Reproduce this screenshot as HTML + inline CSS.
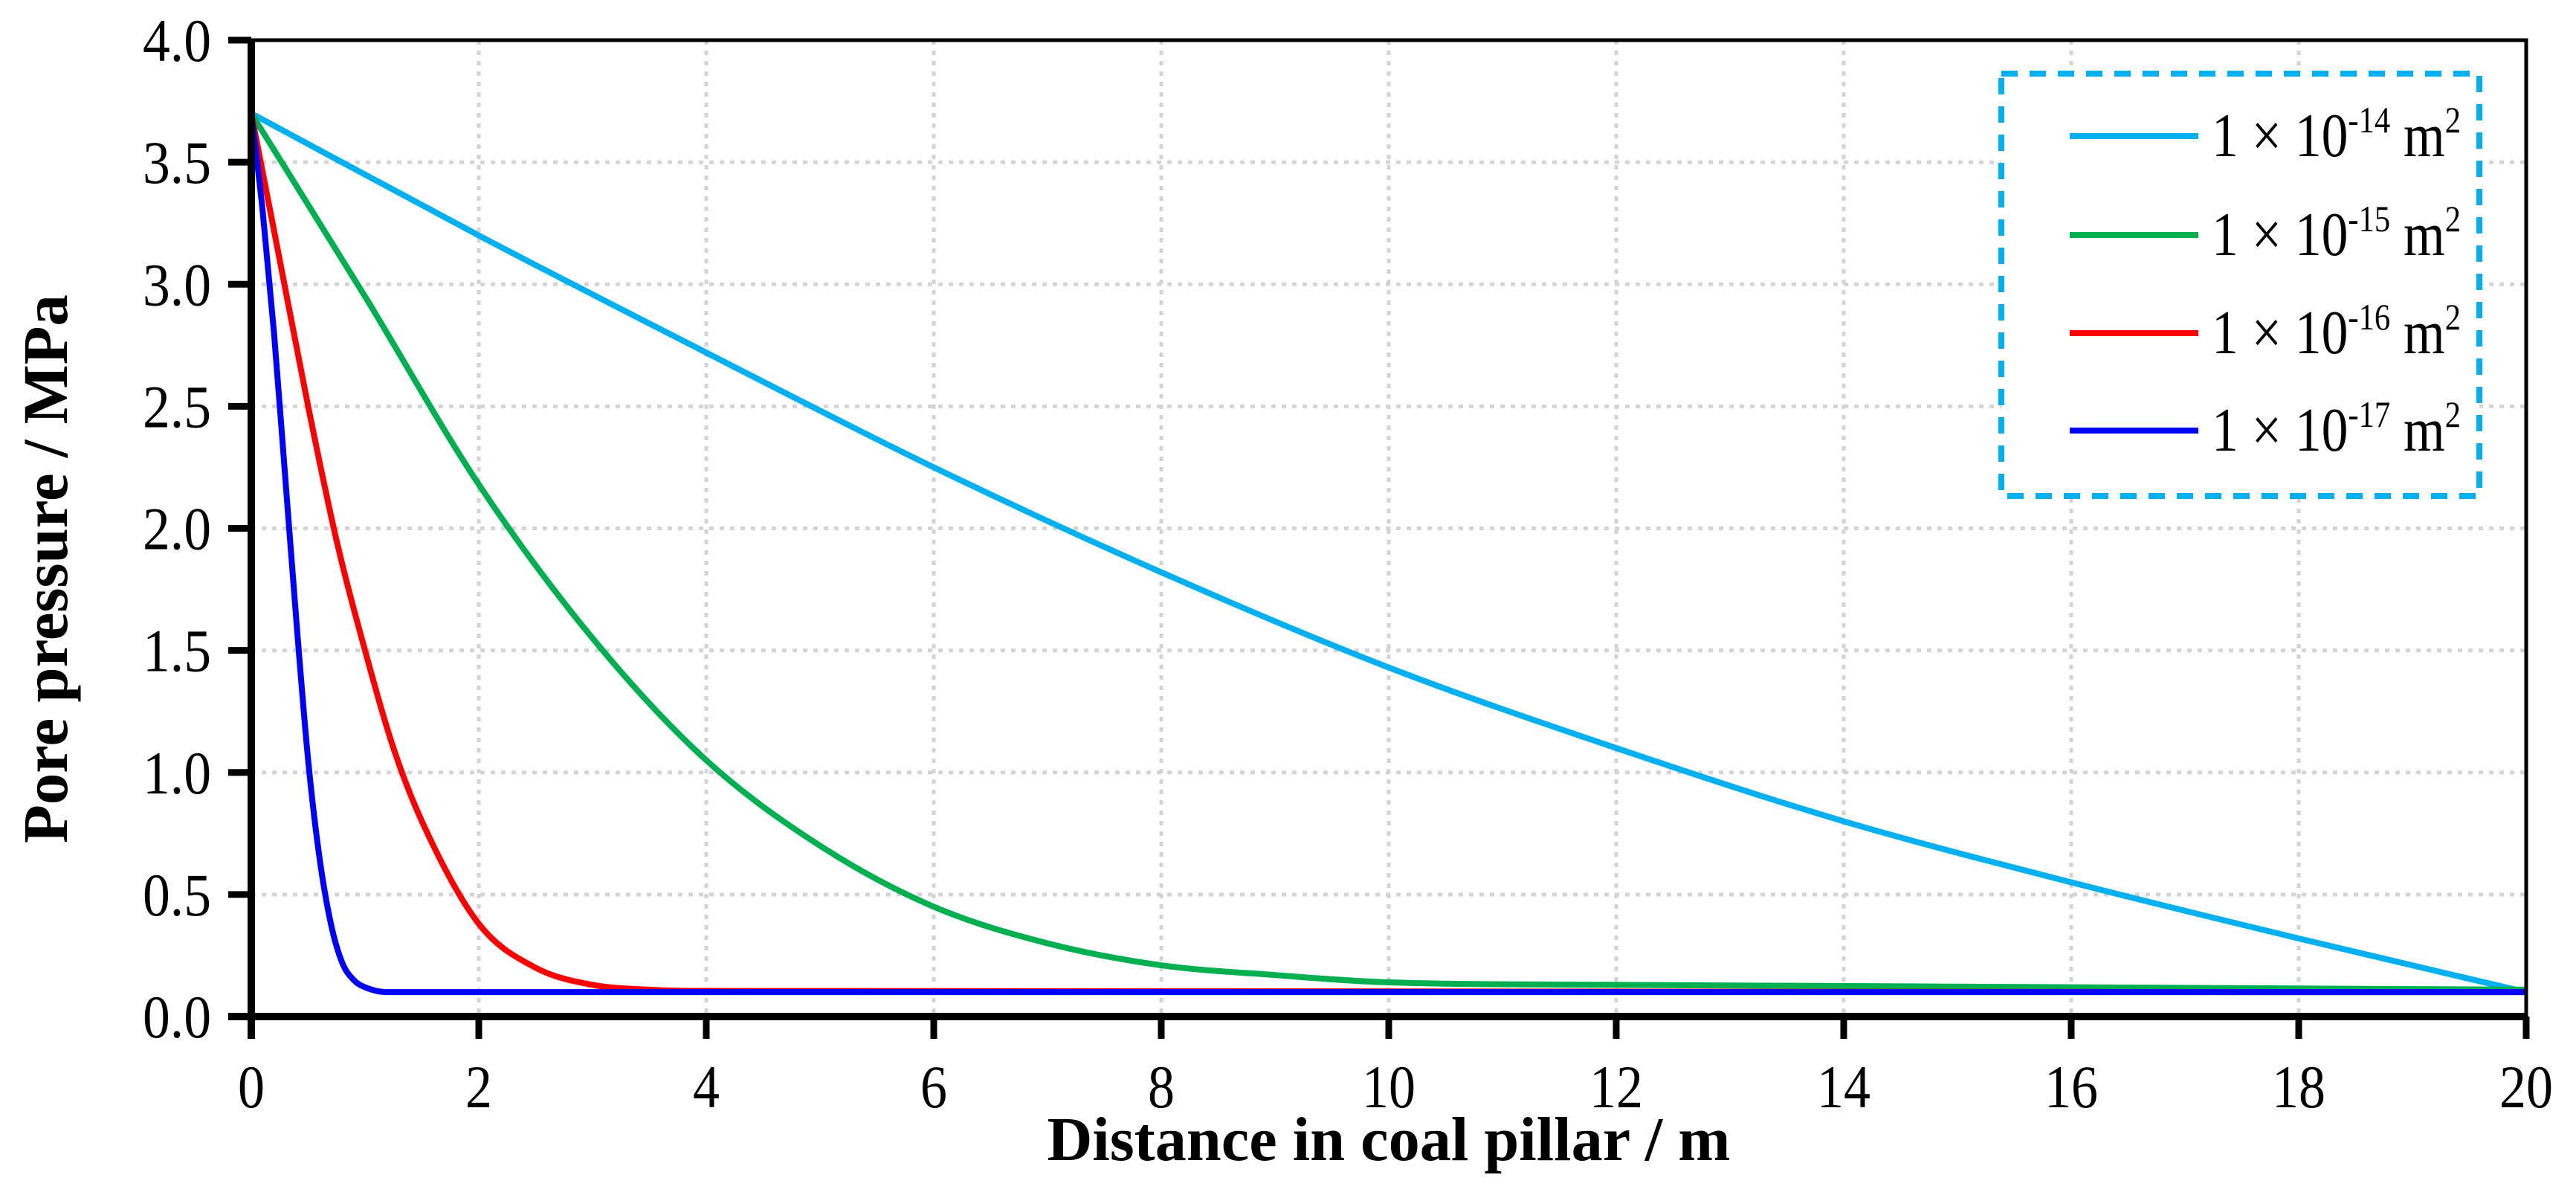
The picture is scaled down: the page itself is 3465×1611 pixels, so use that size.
<!DOCTYPE html>
<html><head><meta charset="utf-8"><style>
html,body{margin:0;padding:0;background:#fff;}
svg{display:block;font-family:"Liberation Serif",serif;}
</style></head><body>
<svg id="chart" width="3465" height="1611" viewBox="0 0 3465 1611" xmlns="http://www.w3.org/2000/svg">
<g id="grid"></g>
<g id="series"></g>
<g id="axes"></g>
<text x="1868" y="1560" text-anchor="middle" font-size="84" font-weight="bold" textLength="919" lengthAdjust="spacingAndGlyphs">Distance in coal pillar / m</text>
<text transform="translate(90,765) rotate(-90)" text-anchor="middle" font-size="86" font-weight="bold" textLength="738" lengthAdjust="spacingAndGlyphs">Pore pressure / MPa</text>
<g id="legend">
<rect x="2692" y="99" width="643" height="568" fill="#fff" stroke="#00B0F0" stroke-width="8" stroke-dasharray="22,16"/>
</g>
</svg>
<script>
const xTicks=[0,2,4,6,8,10,12,14,16,18,20];
const yTicks=[0.0,0.5,1.0,1.5,2.0,2.5,3.0,3.5,4.0];
const seriesExp=["-14","-15","-16","-17"];
const seriesColors=["#00B0F0","#00B050","#FF0000","#0000FF"];
const xCyan=[0,2,4,6,8,10,12,14,16,18,20];
const yCyan=[3.7,3.2,2.72,2.25,1.82,1.43,1.1,0.8,0.55,0.32,0.1];
const xGreen=[0,1,2,3,4,5,6,7,8,9,10,12,14,20];
const yGreen=[3.7,2.95,2.18,1.55,1.05,0.7,0.45,0.3,0.21,0.17,0.14,0.13,0.125,0.11];
const xRed=[0,0.25,0.5,0.75,1,1.25,1.5,2,2.5,3,3.5,4,20];
const yRed=[3.7,3.1,2.5,1.95,1.5,1.1,0.8,0.38,0.2,0.13,0.11,0.105,0.1];
const xBlue=[0,0.1,0.2,0.3,0.4,0.5,0.6,0.7,0.8,0.9,1.0,1.2,20];
const yBlue=[3.7,3.3,2.8,2.2,1.6,1.05,0.65,0.38,0.22,0.15,0.12,0.1,0.1];

const L=338,R=3398,T=54,B=1367;
const sx=v=>L+(v-0)/(20-0)*(R-L);
const sy=v=>B-(v-0)/(4-0)*(B-T);
const NS="http://www.w3.org/2000/svg";
function mk(tag,attrs,parent){const e=document.createElementNS(NS,tag);for(const k in attrs)e.setAttribute(k,attrs[k]);parent.appendChild(e);return e;}
const grid=document.getElementById('grid'),axes=document.getElementById('axes'),ser=document.getElementById('series'),leg=document.getElementById('legend');

xTicks.forEach(t=>{
  if(t>0&&t<20){const g=mk('line',{x1:sx(t),x2:sx(t),y1:T,y2:B,stroke:'#d4d4d4','stroke-width':5,'stroke-dasharray':'6,8'},grid);
  
  }
  const tk=mk('line',{x1:sx(t),x2:sx(t),y1:B,y2:B+30,stroke:'#000','stroke-width':9},axes);
  
  
  const s=String(t);
  const lb=mk('text',{x:sx(t),y:1489,'text-anchor':'middle','font-size':82,textLength:s.length*36,lengthAdjust:'spacingAndGlyphs'},axes);
  
  
  lb.textContent=s;
});
yTicks.forEach(t=>{
  if(t>0&&t<4){const g=mk('line',{x1:L,x2:R,y1:sy(t),y2:sy(t),stroke:'#d4d4d4','stroke-width':5,'stroke-dasharray':'6,8'},grid);
  
  }
  const tk=mk('line',{x1:L-31,x2:L,y1:sy(t),y2:sy(t),stroke:'#000','stroke-width':9},axes);
  
  
  const lb=mk('text',{x:284,y:sy(t)+28,'text-anchor':'end','font-size':82,textLength:92,lengthAdjust:'spacingAndGlyphs'},axes);
  
  
  lb.textContent=t.toFixed(1);
});
const frame=mk('rect',{x:L,y:T,width:R-L,height:B-T,fill:'none',stroke:'#000','stroke-width':5},axes);


const xa=mk('line',{x1:L-31,x2:R,y1:B,y2:B,stroke:'#000','stroke-width':10},axes);


const ya=mk('line',{x1:L,x2:L,y1:T,y2:B+30,stroke:'#000','stroke-width':10},axes);



function monoPath(xs,ys){
  const n=xs.length,px=xs.map(sx),py=ys.map(sy);
  const d=[],m=[];
  for(let i=0;i<n-1;i++)d.push((py[i+1]-py[i])/(px[i+1]-px[i]));
  m[0]=d[0];m[n-1]=d[n-2];
  for(let i=1;i<n-1;i++)m[i]=(d[i-1]*d[i]<=0)?0:(d[i-1]+d[i])/2;
  for(let i=0;i<n-1;i++){if(d[i]===0){m[i]=0;m[i+1]=0;continue;}
    const a=m[i]/d[i],b=m[i+1]/d[i],s=a*a+b*b;
    if(s>9){const t=3/Math.sqrt(s);m[i]=t*a*d[i];m[i+1]=t*b*d[i];}}
  let p='M'+px[0]+','+py[0];
  for(let i=0;i<n-1;i++){const h=(px[i+1]-px[i])/3;
    p+=' C'+(px[i]+h)+','+(py[i]+m[i]*h)+' '+(px[i+1]-h)+','+(py[i+1]-m[i+1]*h)+' '+px[i+1]+','+py[i+1];}
  return p;
}
const allX=[xCyan,xGreen,xRed,xBlue],allY=[yCyan,yGreen,yRed,yBlue];
const names=['series-1e-14','series-1e-15','series-1e-16','series-1e-17'];
allX.forEach((xs,i)=>{
  const p=mk('path',{d:monoPath(xs,allY[i]),fill:'none',stroke:seriesColors[i],'stroke-width':8,'stroke-linejoin':'round'},ser);
  
  
});
const rowsY=[183,316,448,579];
seriesColors.forEach((c,i)=>{
  const ln=mk('line',{x1:2784,x2:2957,y1:rowsY[i],y2:rowsY[i],stroke:c,'stroke-width':8},leg);
  
  
  const tx=mk('text',{x:2975,y:rowsY[i]+27,'font-size':84,textLength:335,lengthAdjust:'spacingAndGlyphs'},leg);
  
  
  tx.innerHTML='1 × 10<tspan font-size="50" dy="-32">'+seriesExp[i]+'</tspan><tspan dy="32"> m</tspan><tspan font-size="50" dy="-32">2</tspan>';
});
</script>
</body></html>
